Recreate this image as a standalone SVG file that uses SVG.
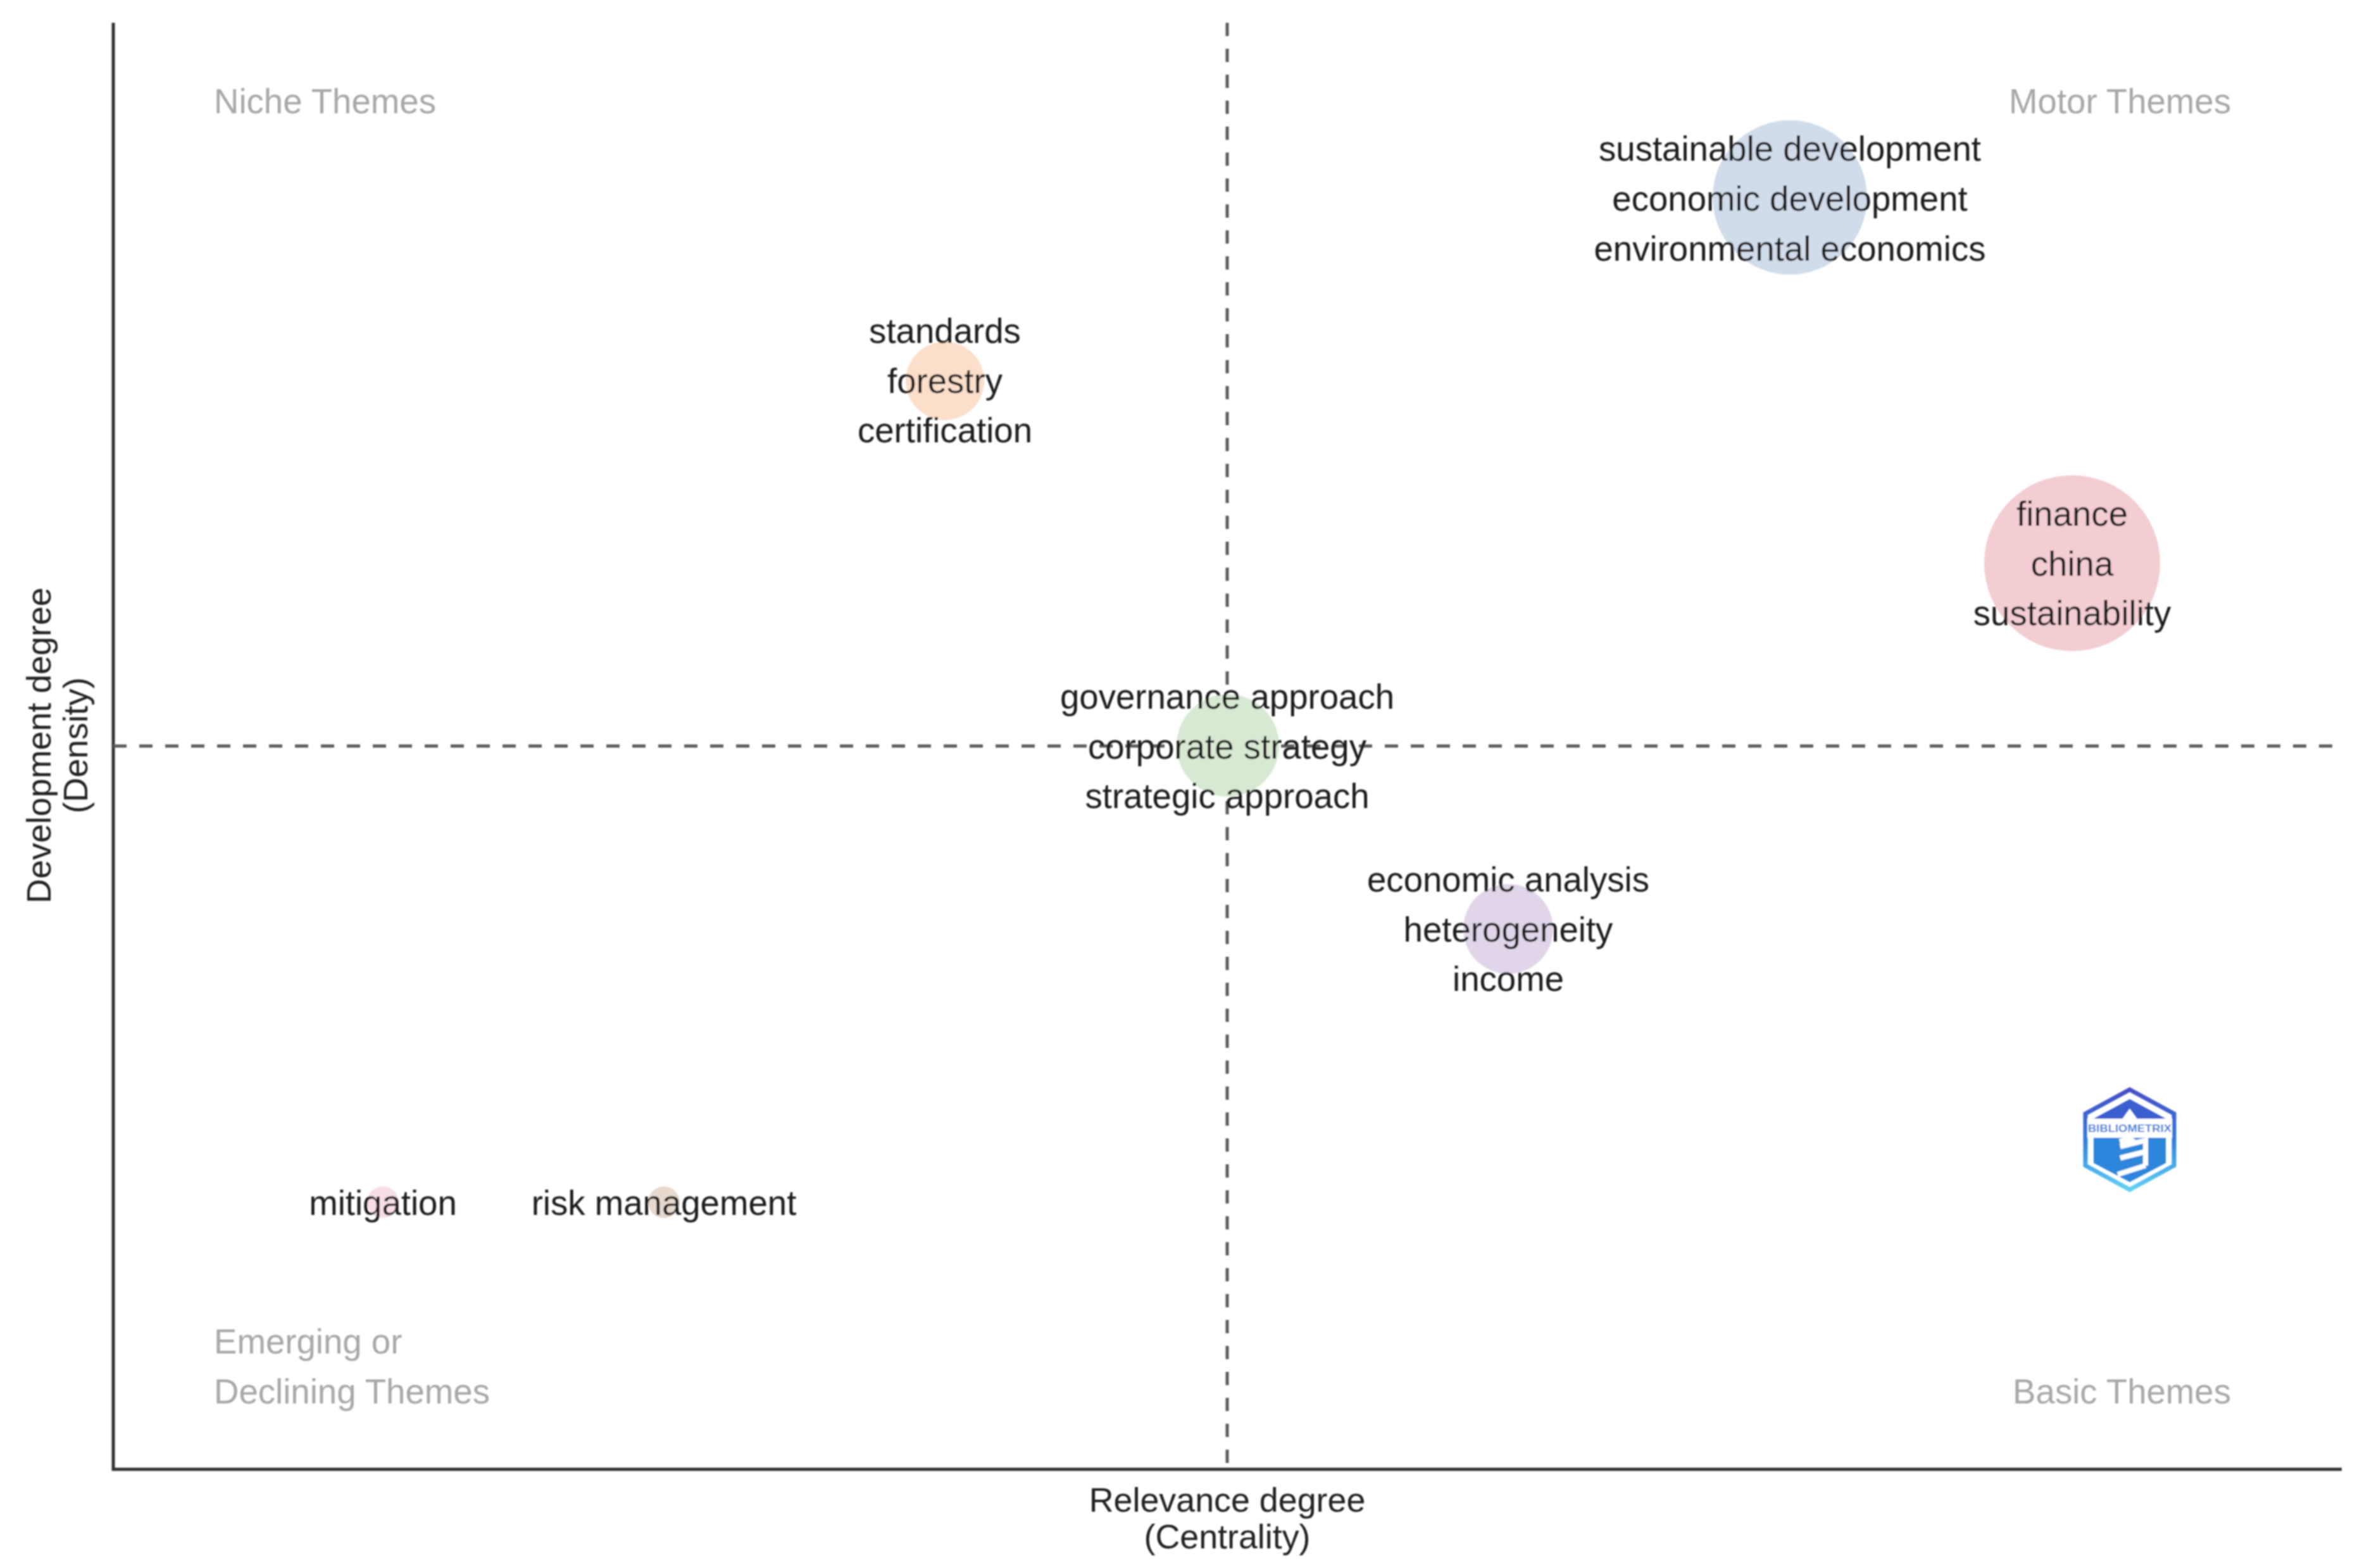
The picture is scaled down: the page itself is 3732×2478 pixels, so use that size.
<svg xmlns="http://www.w3.org/2000/svg" width="3732" height="2478" viewBox="0 0 3732 2478">
<defs>
<style>
text{font-family:"Liberation Sans",Arial,sans-serif;}
.lab{font-size:54.6px;fill:#1c1c1c;text-anchor:middle;}
.q{font-size:54.6px;fill:#a8a8a8;}
.ax{font-size:53.8px;fill:#222;text-anchor:middle;}
.dash{stroke:#5a5a5a;stroke-width:5;stroke-dasharray:21 20;fill:none;}
.axis{stroke:#333;stroke-width:5;fill:none;}
</style>
<filter id="soft" x="-2%" y="-2%" width="104%" height="104%"><feGaussianBlur stdDeviation="1"/></filter>
<linearGradient id="lg" x1="0" y1="0" x2="0" y2="1"><stop offset="0" stop-color="#4a4fc8"/><stop offset="0.5" stop-color="#2f7fdc"/><stop offset="1" stop-color="#62d0f5"/></linearGradient>
</defs>
<rect width="3732" height="2478" fill="#fff"/>
<g filter="url(#soft)">
<g id="connectors">
<path class="axis" d="M179 36V2322H3700"/>
<path class="dash" d="M1939 36V2322"/>
<path class="dash" d="M179 1179H3705"/>
</g>
<g id="quadrants">
<text class="q" x="338" y="179">Niche Themes</text>
<text class="q" x="3525" y="179" text-anchor="end">Motor Themes</text>
<text class="q" x="338" y="2139">Emerging or</text>
<text class="q" x="338" y="2218">Declining Themes</text>
<text class="q" x="3525" y="2218" text-anchor="end">Basic Themes</text>
</g>
<g id="axis-labels">
<text class="ax" x="1939" y="2389">Relevance degree</text>
<text class="ax" x="1939" y="2447">(Centrality)</text>
<text class="ax" transform="translate(80 1178) rotate(-90)">Development degree</text>
<text class="ax" transform="translate(138 1178) rotate(-90)">(Density)</text>
</g>
<g id="node-motor">
<circle cx="2828" cy="312" r="122" fill="#d0dcea"/>
<text class="lab" x="2828" y="254">sustainable development</text>
<text class="lab" x="2828" y="333">economic development</text>
<text class="lab" x="2828" y="412">environmental economics</text>
</g>
<g id="node-finance">
<circle cx="3274" cy="890" r="139" fill="#f2cdd2"/>
<text class="lab" x="3274" y="831">finance</text>
<text class="lab" x="3274" y="910">china</text>
<text class="lab" x="3274" y="988">sustainability</text>
</g>
<g id="node-standards">
<circle cx="1493" cy="602" r="62" fill="#fbdfcb"/>
<text class="lab" x="1493" y="542">standards</text>
<text class="lab" x="1493" y="621">forestry</text>
<text class="lab" x="1493" y="699">certification</text>
</g>
<g id="node-governance">
<circle cx="1940" cy="1178" r="81" fill="#d8e9d3"/>
<text class="lab" x="1939" y="1120">governance approach</text>
<text class="lab" x="1939" y="1199">corporate strategy</text>
<text class="lab" x="1939" y="1277">strategic approach</text>
</g>
<g id="node-economic">
<circle cx="2383" cy="1468" r="71" fill="#e1d6e9"/>
<text class="lab" x="2383" y="1409">economic analysis</text>
<text class="lab" x="2383" y="1488">heterogeneity</text>
<text class="lab" x="2383" y="1566">income</text>
</g>
<g id="node-mitigation">
<circle cx="605" cy="1900" r="25" fill="#f7dde7"/>
<text class="lab" x="605" y="1920">mitigation</text>
</g>
<g id="node-risk">
<circle cx="1049" cy="1900" r="25" fill="#e7d9cd"/>
<text class="lab" x="1049" y="1920">risk management</text>
</g>
<g id="logo">
<polygon points="3365,1722 3435,1760 3435,1842 3365,1880 3295,1842 3295,1760" fill="none" stroke="url(#lg)" stroke-width="7"/>
<polygon points="3365,1737 3422,1768 3308,1768" fill="#3a5fd0"/>
<polygon points="3308,1798 3422,1798 3422,1838 3365,1868 3308,1838" fill="#2f86dc"/>
<rect x="3298" y="1768" width="134" height="30" fill="#fff"/>
<path d="M3350 1812l40-10V1842M3350 1830l40-10M3346 1856l44-14" stroke="#fff" stroke-width="8" fill="none"/>
<polygon points="3365,1752 3378,1770 3352,1770" fill="#fff"/>
<polygon points="3365,1795 3348,1800 3352,1815 3380,1805" fill="#fff"/>
<text x="3365" y="1789" font-size="17" font-weight="700" fill="#3a7bd8" text-anchor="middle" textLength="132" lengthAdjust="spacingAndGlyphs">BIBLIOMETRIX</text>
</g>
</g>
</svg>
